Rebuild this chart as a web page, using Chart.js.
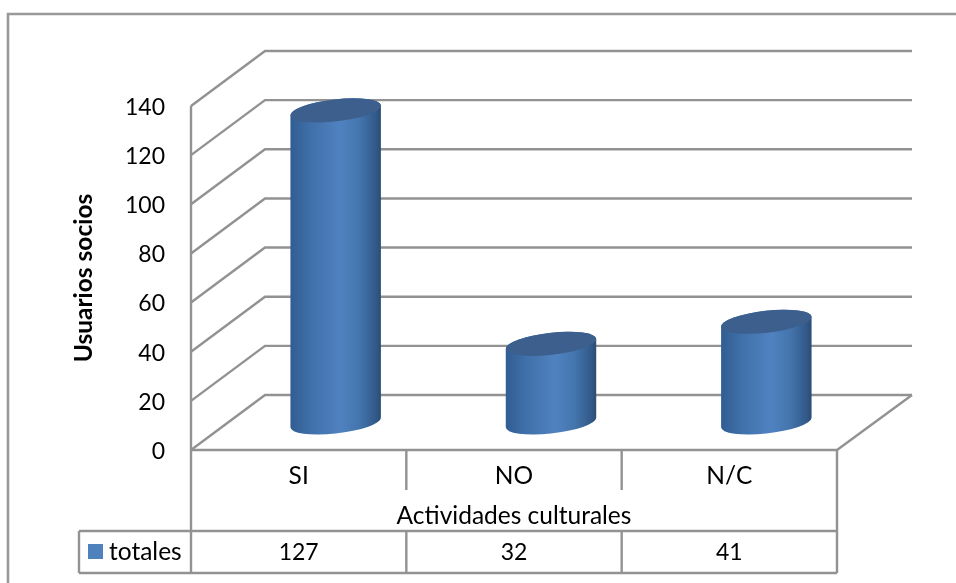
<!DOCTYPE html>
<html><head><meta charset="utf-8">
<style>html,body{margin:0;padding:0;background:#fff}canvas{display:block}</style>
<script src="https://cdn.jsdelivr.net/npm/chart.js@4"></script>
</head><body><canvas id="c" width="956" height="583"></canvas>
<script>
const categories = ["SI", "NO", "N/C"];
const totales = [127, 32, 41];
const seriesName = "totales";
const yTicks = [0, 20, 40, 60, 80, 100, 120, 140];
const axisTitleX = "Actividades culturales";
const axisTitleY = "Usuarios socios";

const FONT = "Lato, Carlito, sans-serif";
const SIZE = 24.5;
const NUM = 23;
const LINE = "#929292";
const DX = 74, DY = -55;

const scene = {
  id: "scene",
  beforeDraw(chart) {
    const c = chart.ctx;
    c.save();
    c.fillStyle = "#fff"; c.fillRect(0, 0, 956, 583);
    c.strokeStyle = "#999999"; c.lineWidth = 2.6;
    c.beginPath(); c.moveTo(8, 583); c.lineTo(8, 14); c.lineTo(956, 14); c.stroke();
    c.restore();
  },
  beforeDatasetsDraw(chart) {
    const c = chart.ctx, a = chart.chartArea, y = chart.scales.y;
    c.save();
    c.strokeStyle = LINE; c.lineWidth = 2.4;
    yTicks.forEach(v => {
      const p = y.getPixelForValue(v);
      c.beginPath(); c.moveTo(a.left, p); c.lineTo(a.left + DX, p + DY);
      c.lineTo(a.right + DX + 1, p + DY); c.stroke();
    });
    const p0 = y.getPixelForValue(0);
    c.beginPath(); c.moveTo(a.left, p0); c.lineTo(a.right, p0);
    c.lineTo(a.right + DX + 1, p0 + DY); c.stroke();
    c.restore();
  },
  beforeDatasetDraw(chart, args) {
    const c = chart.ctx;
    args.meta.data.forEach(el => {
      const cx = el.x + DX / 2, top = el.y + DY / 2, bot = el.base + DY / 2;
      const ra = el.width / 2 + 0.5, rb = 11, rot = -6.5 * Math.PI / 180;
      const t0 = Math.atan(rb / ra * Math.tan(-rot));
      const g = c.createLinearGradient(cx - ra, 0, cx + ra, 0);
      g.addColorStop(0, "#305d92"); g.addColorStop(0.22, "#4070a9");
      g.addColorStop(0.55, "#5082c1"); g.addColorStop(0.76, "#4475ad");
      g.addColorStop(0.94, "#325a8a"); g.addColorStop(1, "#2b4c73");
      c.save();
      c.beginPath();
      c.ellipse(cx, bot, ra, rb, rot, t0, t0 + Math.PI);
      c.ellipse(cx, top, ra, rb, rot, t0 + Math.PI, t0 + 2 * Math.PI);
      c.closePath(); c.fillStyle = g; c.fill();
      c.beginPath(); c.ellipse(cx, top, ra, rb, rot, 0, 2 * Math.PI);
      c.fillStyle = "#3c5f8d"; c.fill();
      c.restore();
    });
    return false;
  },
  afterDraw(chart) {
    const c = chart.ctx, a = chart.chartArea, x = chart.scales.x;
    const T = 531, B = 573, L = 79, sep = x.getPixelForTick(1) - x.getPixelForTick(0);
    c.save();
    c.strokeStyle = LINE; c.lineWidth = 2.4;
    c.beginPath();
    c.moveTo(a.left, a.top); c.lineTo(a.left, B);
    c.moveTo(a.right, a.bottom); c.lineTo(a.right, B);
    c.moveTo(L, T); c.lineTo(a.right, T);
    c.moveTo(L, B); c.lineTo(a.right, B);
    c.moveTo(L, T); c.lineTo(L, B);
    categories.forEach((_, i) => {
      if (i) {
        const p = a.left + sep * i;
        c.moveTo(p, a.bottom); c.lineTo(p, 490);
        c.moveTo(p, T); c.lineTo(p, B);
      }
    });
    c.stroke();
    c.fillStyle = "#000"; c.font = NUM + "px " + FONT;
    c.textAlign = "center"; c.textBaseline = "middle";
    totales.forEach((v, i) => c.fillText(String(v), x.getPixelForTick(i), 553));
    c.textAlign = "left"; c.font = SIZE + "px " + FONT;
    c.fillText(seriesName, 109, 552);
    c.fillStyle = "#4f81bd"; c.fillRect(88, 544, 15, 15);
    c.restore();
  }
};

new Chart(document.getElementById("c"), {
  type: "bar",
  data: { labels: categories, datasets: [{ label: seriesName, data: totales, backgroundColor: "#4f81bd",
    barPercentage: 0.418, categoryPercentage: 1 }] },
  plugins: [scene],
  options: {
    responsive: false, animation: false,
    layout: { padding: { left: 69, right: 119, top: 106, bottom: 52 } },
    plugins: { legend: { display: false }, tooltip: { enabled: false } },
    scales: {
      x: {
        grid: { display: false, drawTicks: false }, border: { display: false },
        ticks: { color: "#000", font: { family: FONT, size: SIZE }, padding: 11, maxRotation: 0 },
        title: { display: true, text: axisTitleX, color: "#000", font: { family: FONT, size: SIZE }, padding: { top: 8, bottom: 0 } },
        afterFit(s) { s.height = 81; }
      },
      y: {
        min: 0, max: 140,
        afterBuildTicks(s) { s.ticks = yTicks.map(v => ({ value: v })); },
        grid: { display: false, drawTicks: false }, border: { display: false },
        ticks: { color: "#000", font: { family: FONT, size: NUM }, padding: 26, labelOffset: 1.5 },
        title: { display: true, text: axisTitleY, color: "#000", font: { family: FONT, size: SIZE, weight: "bold" }, padding: 0 },
        afterFit(s) { s.width = 122; }
      }
    }
  }
});
</script></body></html>
